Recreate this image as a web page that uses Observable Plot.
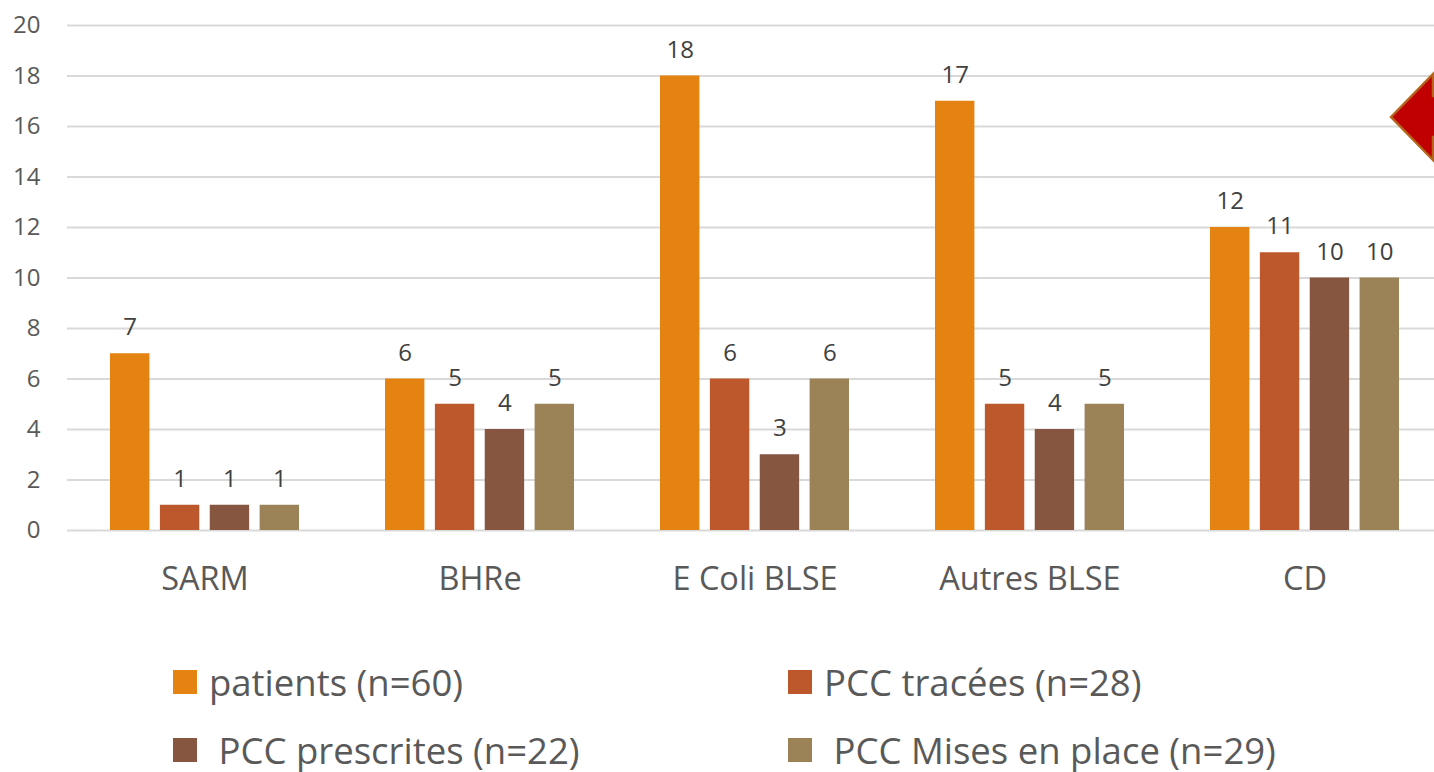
<!DOCTYPE html>
<html>
<head>
<meta charset="utf-8">
<script src="https://cdn.jsdelivr.net/npm/d3@7"></script>
<script src="https://cdn.jsdelivr.net/npm/@observablehq/plot@0.6"></script>
<style>
  html, body { margin: 0; padding: 0; background: #fff; overflow: hidden; }
  body { width: 1434px; height: 772px; position: relative; font-family: "Open Sans", sans-serif; }
  #chart { position: absolute; left: 0; top: 0; width: 1442px; }
  .leg { position: absolute; display: flex; align-items: center; white-space: pre; font-size: 36.5px; color: #595959; line-height: 1; }
  .sw { width: 24px; height: 24px; margin-right: 12px; flex: none; }
  #arrow { position: absolute; left: 0; top: 0; pointer-events: none; }
</style>
</head>
<body>
<div id="chart"></div>
<div id="legend"></div>
<svg id="arrow" width="1434" height="772" viewBox="0 0 1434 772">
  <path d="M1391,117 L1433,74 L1433,96 L1450,96 L1450,137 L1433,137 L1433,160 Z" fill="#C00000" stroke="#B5661B" stroke-width="2.5" stroke-linejoin="miter"/>
</svg>
<script>
const categories = ["SARM", "BHRe", "E Coli BLSE", "Autres BLSE", "CD"];
const seriesNames = ["patients (n=60)", "PCC tracées (n=28)", " PCC prescrites (n=22)", " PCC Mises en place (n=29)"];
const patients = [7, 6, 18, 17, 12];
const tracees = [1, 5, 6, 5, 11];
const prescrites = [1, 4, 3, 4, 10];
const misesEnPlace = [1, 5, 6, 5, 10];
const seriesColors = ["#E48312", "#BD582C", "#865640", "#9B8357"];
const yTicks = [0, 2, 4, 6, 8, 10, 12, 14, 16, 18, 20];

const seriesValues = [patients, tracees, prescrites, misesEnPlace];
const data = [];
categories.forEach((cat, ci) => {
  seriesNames.forEach((s, si) => {
    data.push({cat, series: s, value: seriesValues[si][ci]});
  });
});

const chart = Plot.plot({
  width: 1442,
  height: 610,
  marginLeft: 67,
  marginRight: 0,
  marginTop: 25,
  marginBottom: 80,
  style: {fontFamily: "'Open Sans', sans-serif", background: "transparent"},
  fx: {domain: categories, paddingInner: 0.3127, paddingOuter: 0.1564, round: false, label: null},
  x: {domain: seriesNames, paddingInner: 0.21, paddingOuter: 0, round: false, axis: null},
  y: {domain: [0, 20], label: null},
  color: {domain: seriesNames, range: seriesColors},
  marks: [
    Plot.gridY(yTicks, {stroke: "#d9d9d9", strokeOpacity: 1, strokeWidth: 2, insetLeft: -43, insetRight: -43}),
    Plot.barY(data, {fx: "cat", x: "series", y: "value", fill: "series"}),
    Plot.text(data, {fx: "cat", x: "series", y: "value", text: d => String(d.value), dy: -26, fontSize: 24, fill: "#404040"}),
    Plot.axisY(yTicks, {tickSize: 0, tickPadding: 70, fontSize: 24, color: "#595959", label: null}),
    Plot.axisFx({anchor: "bottom", tickSize: 0, tickPadding: 36, fontSize: 32.5, color: "#595959", label: null})
  ]
});
document.getElementById("chart").appendChild(chart);

// legend
const legendPos = [
  {left: 173, top: 670},
  {left: 788, top: 670},
  {left: 173, top: 738},
  {left: 788, top: 738}
];
const legend = document.getElementById("legend");
seriesNames.forEach((s, i) => {
  const item = document.createElement("div");
  item.className = "leg";
  item.style.left = legendPos[i].left + "px";
  item.style.top = (legendPos[i].top - 5) + "px";
  item.style.height = "34px";
  const sw = document.createElement("span");
  sw.className = "sw";
  sw.style.background = seriesColors[i];
  const tx = document.createElement("span");
  tx.textContent = s;
  item.appendChild(sw);
  item.appendChild(tx);
  legend.appendChild(item);
});
</script>
</body>
</html>
